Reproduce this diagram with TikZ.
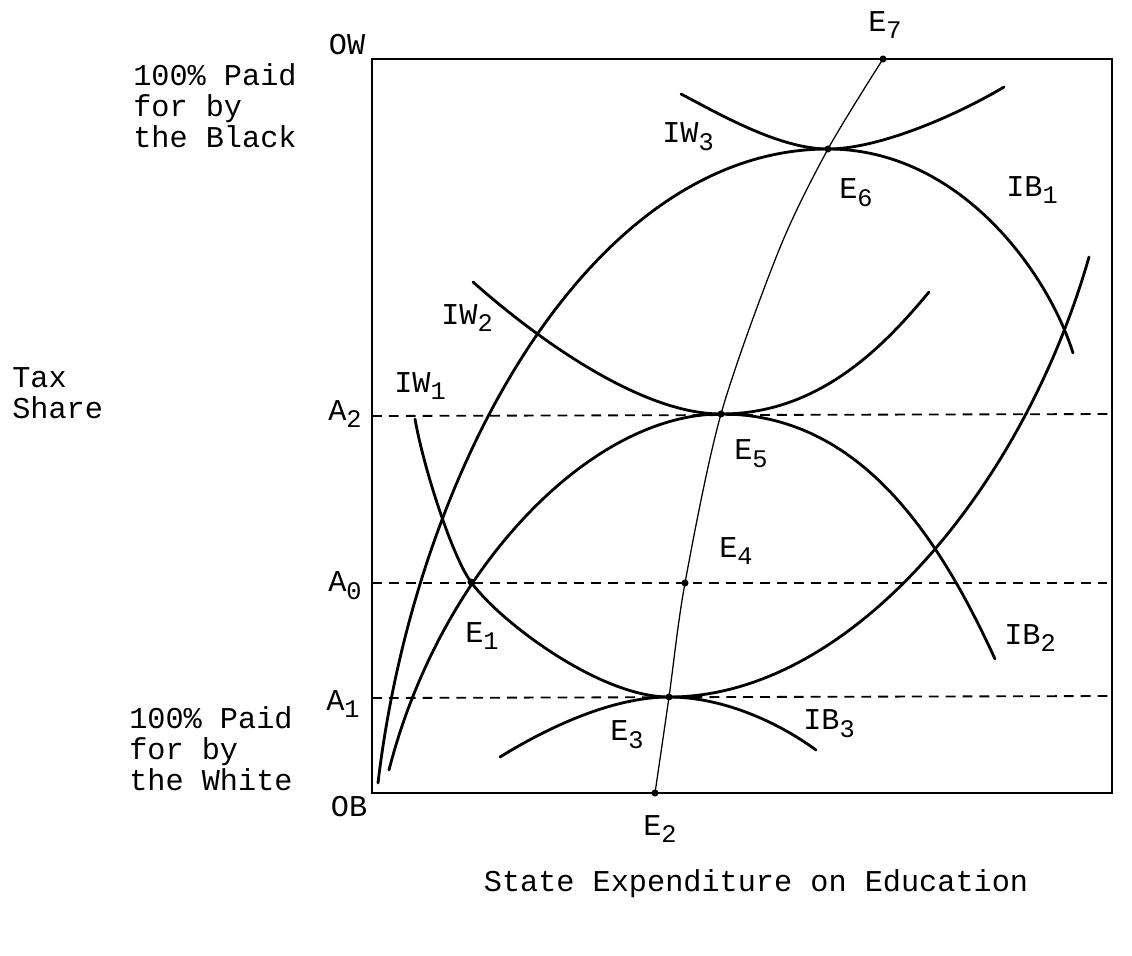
\documentclass[tikz,border=0pt]{standalone}
\usepackage{fontspec}
\setmainfont{Liberation Mono}
\newcommand{\lsub}[1]{\raisebox{-5.5pt}{\fontsize{18}{18}\selectfont #1}}
\tikzset{
  frame/.style={line width=1.5pt},
  curve/.style={line width=2pt, line cap=round},
  expline/.style={line width=0.9pt},
  guide/.style={line width=1.3pt, dash pattern=on 7pt off 5pt},
  lbl/.style={inner sep=0pt, font=\fontsize{21.5}{22}\selectfont},
  txt/.style={lbl, align=left, anchor=west},
  dot/.style={circle, fill, inner sep=0pt, minimum size=5pt}
}

\begin{document}
\begin{tikzpicture}[x=0.025cm, y=-0.025cm]
\useasboundingbox (0,0) rectangle (1132,955);

% corners and equilibria
\coordinate (OW) at (372,59);
\coordinate (OB) at (372,793);
\coordinate (TR) at (1112,59);
\coordinate (BR) at (1112,793);
\coordinate (E1) at (471,582);
\coordinate (E2) at (655,793);
\coordinate (E3) at (669,697);
\coordinate (E4) at (685,583);
\coordinate (E5) at (721,414);
\coordinate (E6) at (828,149);
\coordinate (E7) at (883,59);

\draw[frame] (OB) -- (BR) -- (TR) -- (OW) -- cycle;

% tax share levels
\coordinate (a2l) at (372,416); \coordinate (a2r) at (1112,414);
\coordinate (a0l) at (372,583); \coordinate (a0r) at (1112,583);
\coordinate (a1l) at (372,698); \coordinate (a1r) at (1112,696);
\draw[guide] (a2l) -- (a2r);
\draw[guide] (a0l) -- (a0r);
\draw[guide] (a1l) -- (a1r);

% indifference curves of the black
\draw[curve] (378,783) .. controls (415,470) and (590,149) .. (E6)
  .. controls (960,149) and (1048,273) .. (1073,353);
\draw[curve] (389,770) .. controls (440,570) and (590,414) .. (E5)
  .. controls (860,414) and (939,537) .. (995,659);
\draw[curve] (500,757) .. controls (560,720) and (620,697) .. (E3)
  .. controls (720,697) and (775,720) .. (816,750);

% indifference curves of the white
\draw[curve] (415,419) .. controls (424,470) and (453,558) .. (E1)
  .. controls (500,622) and (600,697) .. (E3)
  .. controls (850,697) and (1023,488) .. (1089,257);
\draw[curve] (473,282) .. controls (535,337) and (640,414) .. (E5)
  .. controls (820,414) and (885,345) .. (929,292);
\draw[curve] (681,94) .. controls (721,115) and (780,149) .. (E6)
  .. controls (880,149) and (959,114) .. (1004,87);

% locus of tangencies
\draw[expline] plot[smooth, tension=0.5] coordinates {(E2) (E3) (E4) (E5) (779,250) (E6) (E7)};

\foreach \p in {E1,E2,E3,E4,E5,E6,E7} \node[dot] at (\p) {};

% labels
\node[lbl] (lOW) at (347,45) {OW};
\node[lbl] (lOB) at (349,807) {OB};
\node[lbl] (lA2) at (345,414) {A\lsub{2}};
\node[lbl] (lA0) at (345,586) {A\lsub{0}};
\node[lbl] (lA1) at (343,704) {A\lsub{1}};
\node[lbl] (lIW1) at (420,386) {IW\lsub{1}};
\node[lbl] (lIW2) at (467,318) {IW\lsub{2}};
\node[lbl] (lIW3) at (688,137) {IW\lsub{3}};
\node[lbl] (lIB1) at (1032,190) {IB\lsub{1}};
\node[lbl] (lIB2) at (1030,638) {IB\lsub{2}};
\node[lbl] (lIB3) at (829,724) {IB\lsub{3}};
\node[lbl] (lE1) at (482,636) {E\lsub{1}};
\node[lbl] (lE2) at (660,829) {E\lsub{2}};
\node[lbl] (lE3) at (627,735) {E\lsub{3}};
\node[lbl] (lE4) at (736,551) {E\lsub{4}};
\node[lbl] (lE5) at (751,454) {E\lsub{5}};
\node[lbl] (lE6) at (856,193) {E\lsub{6}};
\node[lbl] (lE7) at (885,25) {E\lsub{7}};

\node[txt] (black) at (133,106) {100\% Paid\\for by\\the Black};
\node[txt] (share) at (12,393) {Tax\\Share};
\node[txt] (white) at (129,749) {100\% Paid\\for by\\the White};
\node[lbl] (xlab) at (756,884) {State Expenditure on Education};
\end{tikzpicture}
\end{document}
